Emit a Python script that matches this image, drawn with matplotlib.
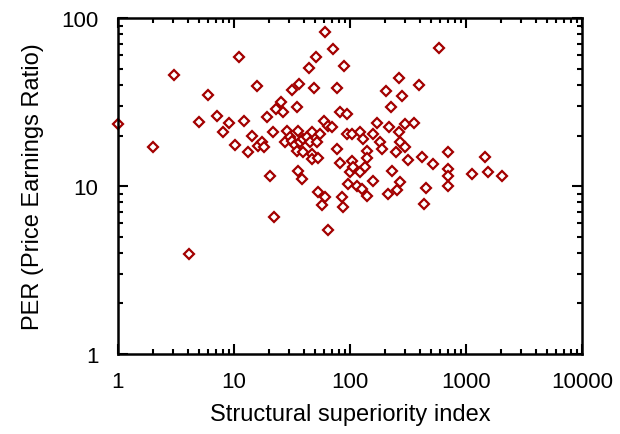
import matplotlib
matplotlib.use("Agg")
import matplotlib.pyplot as plt
from matplotlib.ticker import FixedLocator, FixedFormatter, LogLocator, NullFormatter

# --- データ ---
# 構造的優位性指数 (x) と PER (y)
ssi = [1.0, 2.0, 3.04, 4.09, 4.99, 5.97, 7.13, 8.04, 9.05, 10.2,
       11.0, 12.2, 13.2, 14.3, 15.8, 16.1, 17.4, 18.1, 19.2, 20.4,
       21.7, 22.1, 23.0, 25.4, 26.4, 27.5, 28.6, 30.4, 31.6, 31.6,
       33.6, 34.9, 35.6, 34.9, 35.6, 36.3, 37.1, 38.5, 39.3, 39.3,
       42.6, 44.3, 45.2, 47.0, 47.0, 47.0, 48.9, 50.9, 52.0, 53.0,
       53.0, 55.1, 59.7, 57.4, 60.9, 60.9, 64.6, 70.0, 64.6, 71.3,
       77.3, 77.3, 82.0, 82.0, 85.3, 87.1, 88.8, 94.2, 94.2, 96.1,
       100, 104, 104, 106, 115, 122, 122, 127, 129, 135,
       140, 140, 140, 158, 158, 171, 181, 189, 204, 213,
       217, 226, 230, 249, 254, 264, 264, 270, 270, 281,
       298, 298, 316, 356, 393, 418, 434, 452, 519, 585,
       700, 700, 700, 700, 1127, 1459, 1548, 2042]
per = [23.4, 17.1, 45.8, 3.94, 24.0, 34.8, 26.1, 21.0, 23.7, 17.5,
       58.6, 24.4, 15.9, 19.8, 39.4, 17.3, 18.3, 17.1, 25.7, 11.5,
       21.0, 6.54, 28.7, 31.6, 27.6, 18.3, 21.3, 19.6, 37.3, 18.5,
       17.5, 29.5, 21.3, 16.2, 12.3, 40.5, 18.3, 11.0, 19.0, 15.9,
       19.6, 50.4, 18.3, 21.0, 15.5, 14.5, 38.3, 58.6, 18.3, 14.7,
       9.21, 20.4, 24.4, 7.71, 82.6, 8.60, 22.8, 22.4, 5.47, 65.4,
       38.3, 16.6, 27.6, 13.7, 8.60, 7.50, 51.8, 26.8, 20.4, 10.3,
       12.1, 20.4, 14.1, 13.0, 10.0, 21.0, 12.1, 9.60, 19.0, 13.0,
       16.2, 14.7, 8.72, 20.4, 10.7, 23.7, 18.3, 16.6, 36.8, 8.96,
       22.4, 29.5, 12.3, 15.9, 9.47, 43.9, 21.0, 18.3, 10.6, 34.3,
       23.4, 17.1, 14.3, 23.7, 39.9, 14.9, 7.81, 9.73, 13.5, 66.3,
       15.9, 12.6, 11.5, 10.0, 11.8, 14.9, 12.1, 11.5]

x_ticks = [1, 10, 100, 1000, 10000]
x_labels = ["1", "10", "100", "1000", "10000"]
y_ticks = [1, 10, 100]
y_labels = ["1", "10", "100"]

MARK = "#A30000"

plt.rcParams['font.family'] = ['Liberation Sans', 'DejaVu Sans']

fig = plt.figure(figsize=(6.2, 4.35), dpi=100)
ax = fig.add_axes([0.190, 0.184, 0.749, 0.772])

ax.plot(ssi, per, linestyle="none", marker="D", markersize=5.6,
        markerfacecolor="white", markeredgecolor=MARK, markeredgewidth=1.6,
        clip_on=False)

ax.set_xscale("log")
ax.set_yscale("log")
ax.set_xlim(1, 10000)
ax.set_ylim(1, 100)

ax.xaxis.set_major_locator(FixedLocator(x_ticks))
ax.xaxis.set_major_formatter(FixedFormatter(x_labels))
ax.yaxis.set_major_locator(FixedLocator(y_ticks))
ax.yaxis.set_major_formatter(FixedFormatter(y_labels))
ax.xaxis.set_minor_locator(LogLocator(base=10, subs=range(2, 10)))
ax.yaxis.set_minor_locator(LogLocator(base=10, subs=range(2, 10)))
ax.xaxis.set_minor_formatter(NullFormatter())
ax.yaxis.set_minor_formatter(NullFormatter())

ax.tick_params(which="both", direction="in", top=True, right=True,
               width=1.5, colors="black")
ax.tick_params(which="major", length=7, labelsize=16)
ax.tick_params(axis="x", which="major", pad=12)
ax.tick_params(axis="y", which="major", pad=14)
ax.tick_params(which="minor", length=3.5)
for s in ax.spines.values():
    s.set_linewidth(1.8)

ax.set_xlabel("Structural superiority index", fontsize=17, labelpad=8)
ax.set_ylabel("PER (Price Earnings Ratio)", fontsize=17, labelpad=12)

plt.savefig("out.png", dpi=100)
plt.close()
